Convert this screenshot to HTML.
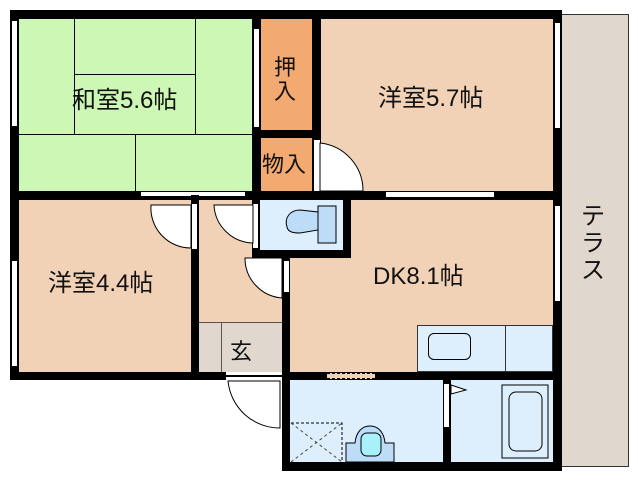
<!DOCTYPE html>
<html><head><meta charset="utf-8"><style>
body{margin:0;width:638px;height:480px;background:#fff;position:relative;overflow:hidden;font-family:"Liberation Sans","Noto Sans CJK JP",sans-serif}
div{position:absolute;box-sizing:border-box}
.w{background:#000}
.t{font-size:24px;line-height:28px;color:#111;white-space:nowrap}
.win{background:#fff;border:1px solid #000}
</style></head><body>
<!-- terrace -->
<div style="left:558px;top:14px;width:71px;height:453px;background:#e0d7ce;border:1px solid #333"></div>
<div class="t" style="left:580px;top:203px;width:26px;line-height:27px;font-size:24px;text-align:center;white-space:normal">テ<br>ラ<br>ス</div>
<!-- rooms -->
<div style="left:18px;top:18px;width:234px;height:173px;background:#ccf7b4"></div>
<div style="left:260px;top:18px;width:52px;height:112px;background:#f2aa70"></div>
<div style="left:260px;top:138px;width:52px;height:53px;background:#f2aa70"></div>
<div style="left:320px;top:18px;width:233px;height:173px;background:#f2d2b6"></div>
<div style="left:18px;top:200px;width:173px;height:172px;background:#f2d2b6"></div>
<div style="left:199px;top:200px;width:83px;height:122px;background:#f2d2b6"></div>
<div style="left:199px;top:322px;width:83px;height:50px;background:#e0d7ce;border-top:1px solid #555"></div>
<div style="left:221px;top:322px;width:1px;height:50px;background:#555"></div>
<div style="left:290px;top:200px;width:263px;height:172px;background:#f2d2b6"></div>
<div style="left:260px;top:200px;width:83px;height:50px;background:#ddeffd"></div>
<div style="left:417px;top:325px;width:136px;height:47px;background:#ddeffd;border:1px solid #333"></div>
<div style="left:505px;top:325px;width:1px;height:47px;background:#333"></div>
<div style="left:428px;top:333px;width:43px;height:27px;border:1px solid #000;border-radius:6px"></div>
<div style="left:290px;top:380px;width:153px;height:82px;background:#ddeffd"></div>
<div style="left:451px;top:380px;width:102px;height:82px;background:#ddeffd"></div>
<!-- tatami lines -->
<div style="left:74px;top:18px;width:1px;height:116px;background:#000"></div>
<div style="left:195px;top:18px;width:1px;height:116px;background:#000"></div>
<div style="left:74px;top:74px;width:121px;height:1px;background:#000"></div>
<div style="left:18px;top:134px;width:234px;height:1px;background:#000"></div>
<div style="left:135px;top:134px;width:1px;height:57px;background:#000"></div>
<!-- walls -->
<div class="w" style="left:10px;top:10px;width:552px;height:9px"></div>
<div class="w" style="left:10px;top:10px;width:9px;height:370px"></div>
<div class="win" style="left:11px;top:20px;width:7px;height:107px"></div>
<div class="win" style="left:11px;top:260px;width:7px;height:107px"></div>
<div class="w" style="left:252px;top:10px;width:9px;height:190px"></div>
<div class="win" style="left:253px;top:28px;width:7px;height:100px"></div>
<div class="w" style="left:312px;top:10px;width:9px;height:190px"></div>
<div style="left:313px;top:140px;width:7px;height:51px;background:#fff;border-left:1px solid #000"></div>
<div class="w" style="left:260px;top:130px;width:52px;height:8px"></div>
<div class="w" style="left:553px;top:10px;width:9px;height:461px"></div>
<div class="win" style="left:554px;top:22px;width:7px;height:107px"></div>
<div class="win" style="left:554px;top:205px;width:7px;height:97px"></div>
<div class="w" style="left:10px;top:191px;width:552px;height:9px"></div>
<div class="win" style="left:140px;top:191px;width:106px;height:6px"></div>
<div class="win" style="left:385px;top:191px;width:110px;height:7px"></div>
<div class="w" style="left:191px;top:195px;width:8px;height:185px"></div>
<div class="win" style="left:191px;top:203px;width:7px;height:47px"></div>
<div class="w" style="left:252px;top:195px;width:8px;height:63px"></div>
<div class="win" style="left:252px;top:203px;width:7px;height:46px"></div>
<div class="w" style="left:252px;top:250px;width:98px;height:8px"></div>
<div class="w" style="left:343px;top:195px;width:8px;height:63px"></div>
<div class="w" style="left:282px;top:258px;width:8px;height:213px"></div>
<div class="win" style="left:283px;top:260px;width:7px;height:33px"></div>
<div class="w" style="left:10px;top:372px;width:216px;height:8px"></div>
<div class="w" style="left:282px;top:372px;width:280px;height:8px"></div>
<div style="left:327px;top:373px;width:48px;height:6px;background:#f2d2b6;border-top:1px dashed #000;border-bottom:1px dashed #000"></div>
<div style="left:226px;top:375px;width:56px;height:2px;border-top:1px solid #000;border-bottom:1px solid #000"></div>
<div class="w" style="left:443px;top:380px;width:8px;height:85px"></div>
<div class="win" style="left:443px;top:383px;width:7px;height:45px"></div>
<div class="w" style="left:282px;top:462px;width:280px;height:9px"></div>
<!-- doors -->
<svg width="638" height="480" style="position:absolute;left:0;top:0">
<g fill="#fff" stroke="#000" stroke-width="1">
<path d="M320,143 A48,48 0 0 1 363,191 L320,191 Z"/>
<path d="M191,205 L151,205 A40,40 0 0 0 191,248 Z"/>
<path d="M253,205 L214,205 A40,40 0 0 0 253,243 Z"/>
<path d="M282,258 L245,258 A40,40 0 0 0 282,298 Z"/>
<path d="M280,381 L228,381 A52,52 0 0 0 280,428 Z"/>
<path d="M451,385 L466,390 L451,394 Z"/>
</g>
<g stroke="#000" stroke-width="1">
<path d="M287,227 C284,218 290,210 300,210 L318,212 L318,230 L300,233 C293,233 288,232 287,227 Z" fill="#bcdcf8"/>
<rect x="318" y="206" width="18" height="37" fill="#bcdcf8"/>
<rect x="502" y="385" width="46" height="73" fill="none"/>
<rect x="509" y="392" width="33" height="59" rx="7" fill="none"/>
<path d="M346,462 L346,443 L355,443 C356,432 362,426 370,426 C378,426 384,432 385,443 L394,443 L394,462 Z" fill="#bcdcf8"/>
<rect x="361" y="433" width="20" height="23" rx="6" fill="#a8f0fa"/>
<path d="M291,423 L342,423 L342,462" fill="none" stroke-dasharray="3,2"/>
<path d="M291,423 L342,462 M291,462 L342,423" fill="none" stroke-dasharray="3,3" stroke="#444"/>
</g>
</svg>
<!-- labels -->
<div class="t" style="left:72px;top:87px">和室5.6帖</div>
<div class="t" style="left:274px;top:54px;font-size:22px">押</div>
<div class="t" style="left:274px;top:78px;font-size:22px">入</div>
<div class="t" style="left:262px;top:151px;font-size:22px">物入</div>
<div class="t" style="left:378px;top:85px">洋室5.7帖</div>
<div class="t" style="left:48px;top:270px">洋室4.4帖</div>
<div class="t" style="left:230px;top:338px;font-size:22px">玄</div>
<div class="t" style="left:373px;top:263px">DK8.1帖</div>
</body></html>
